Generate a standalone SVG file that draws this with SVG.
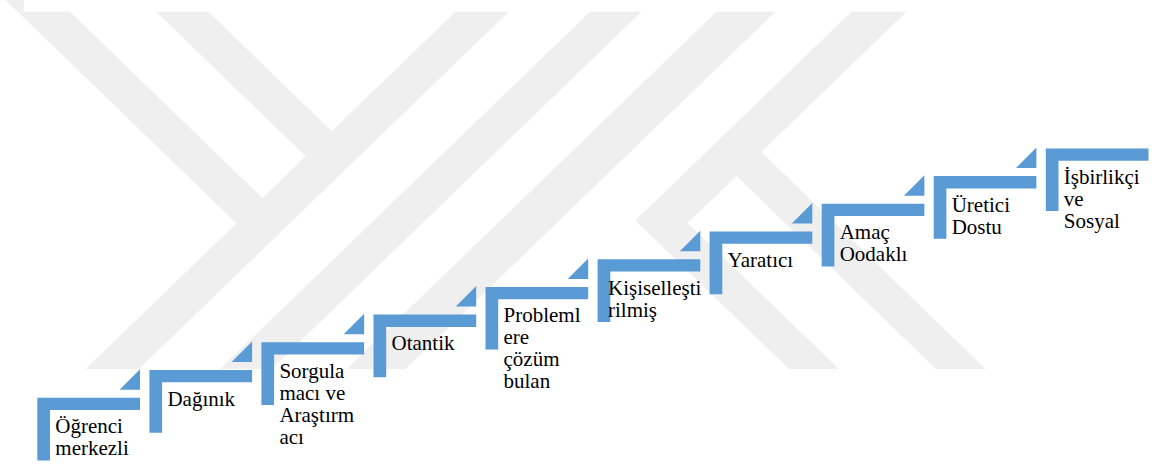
<svg xmlns="http://www.w3.org/2000/svg" width="1152" height="464" viewBox="0 0 1152 464">
<style>
.wm{fill:#efefef}
.step{fill:#5b9bd5}
.tri{fill:#5b9bd5}
.lbl{font-family:"Liberation Serif","Times New Roman",serif;font-size:21px;fill:#000}
</style>
<rect x="0" y="0" width="1152" height="464" fill="#ffffff"/>
<g id="watermark">
<polygon class="wm" points="5.5,0 57.7,0 267.6,203 241.3,228"/>
<polygon class="wm" points="144,0 196.2,0 336.8,136 310.5,161"/>
<polygon class="wm" points="467.6,0 520.9,0 138.9,369 85.6,369"/>
<polygon class="wm" points="602.1,0 653.5,0 271.5,369 220.1,369"/>
<polygon class="wm" points="728.7,0 787.5,0 405.5,369 346.7,369"/>
<polygon class="wm" points="863.6,0 918.7,0 687.7,223 839,369 789,369 635.3,220.5"/>
<polygon class="wm" points="761,151.7 985.6,369 936,369 736.5,176 735,165"/>
<rect x="23.9" y="0" width="1130" height="11.7" fill="#ffffff"/>
</g>
<g id="connectors">
<polygon class="tri" points="140,369.2 140,389.7 119.5,389.7"/>
<polygon class="tri" points="252.1,341.5 252.1,362 231.6,362"/>
<polygon class="tri" points="364.1,313.8 364.1,334.3 343.6,334.3"/>
<polygon class="tri" points="476.2,286.1 476.2,306.6 455.7,306.6"/>
<polygon class="tri" points="588.2,258.4 588.2,278.9 567.7,278.9"/>
<polygon class="tri" points="700.3,230.7 700.3,251.2 679.8,251.2"/>
<polygon class="tri" points="812.3,203 812.3,223.5 791.8,223.5"/>
<polygon class="tri" points="924.4,175.3 924.4,195.8 903.9,195.8"/>
<polygon class="tri" points="1036.4,147.6 1036.4,168.1 1015.9,168.1"/>
</g>
<g id="step1">
<path class="step" d="M37.3 397.7h102.7v12.3h-90v50.4h-12.7z"/>
<text class="lbl" x="55.3" y="433.2">Öğrenci<tspan x="55.3" dy="22">merkezli</tspan></text>
</g>
<g id="step2">
<path class="step" d="M149.4 370h102.7v12.3h-90v50.4h-12.7z"/>
<text class="lbl" x="167.4" y="405.5">Dağınık</text>
</g>
<g id="step3">
<path class="step" d="M261.4 342.3h102.7v12.3h-90v50.4h-12.7z"/>
<text class="lbl" x="279.4" y="377.8">Sorgula<tspan x="279.4" dy="22">macı ve</tspan><tspan x="279.4" dy="22">Araştırm</tspan><tspan x="279.4" dy="22">acı</tspan></text>
</g>
<g id="step4">
<path class="step" d="M373.5 314.6h102.7v12.3h-90v50.4h-12.7z"/>
<text class="lbl" x="391.5" y="350.1">Otantik</text>
</g>
<g id="step5">
<path class="step" d="M485.5 286.9h102.7v12.3h-90v50.4h-12.7z"/>
<text class="lbl" x="503.5" y="322.4">Probleml<tspan x="503.5" dy="22">ere</tspan><tspan x="503.5" dy="22">çözüm</tspan><tspan x="503.5" dy="22">bulan</tspan></text>
</g>
<g id="step6">
<path class="step" d="M597.6 259.2h102.7v12.3h-90v50.4h-12.7z"/>
<text class="lbl" x="608" y="294.7">Kişiselleşti<tspan x="608" dy="22">rilmiş</tspan></text>
</g>
<g id="step7">
<path class="step" d="M709.6 231.5h102.7v12.3h-90v50.4h-12.7z"/>
<text class="lbl" x="727.6" y="267">Yaratıcı</text>
</g>
<g id="step8">
<path class="step" d="M821.7 203.8h102.7v12.3h-90v50.4h-12.7z"/>
<text class="lbl" x="839.7" y="239.3">Amaç<tspan x="839.7" dy="22">Oodaklı</tspan></text>
</g>
<g id="step9">
<path class="step" d="M933.7 176.1h102.7v12.3h-90v50.4h-12.7z"/>
<text class="lbl" x="951.7" y="211.6">Üretici<tspan x="951.7" dy="22">Dostu</tspan></text>
</g>
<g id="step10">
<path class="step" d="M1045.8 148.4h102.7v12.3h-90v50.4h-12.7z"/>
<text class="lbl" x="1063.8" y="183.9">İşbirlikçi<tspan x="1063.8" dy="22">ve</tspan><tspan x="1063.8" dy="22">Sosyal</tspan></text>
</g>
</svg>
